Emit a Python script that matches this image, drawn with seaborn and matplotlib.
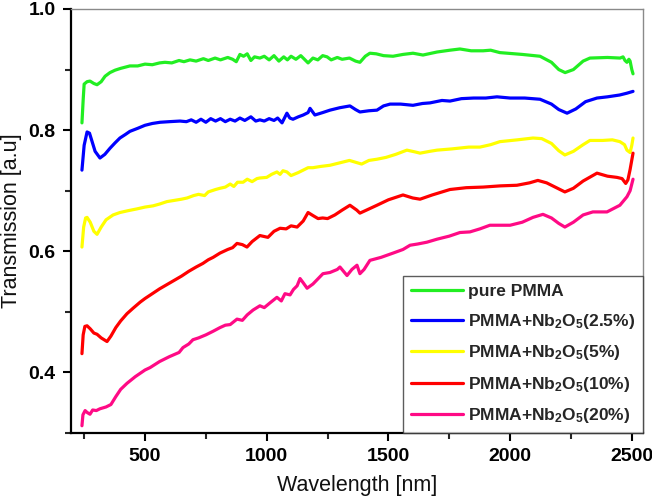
import numpy as np
import pandas as pd
import matplotlib
matplotlib.use("Agg")
import matplotlib.pyplot as plt
from matplotlib.ticker import MultipleLocator
import seaborn as sns

# ---------------- data ----------------
wl_pure = [241, 246, 250, 262, 274, 290, 303, 320, 336, 356, 377, 400, 438, 470, 500, 530, 560, 582, 610, 640,
           660, 685, 710, 740, 760, 788, 810, 840, 860, 875, 890, 905, 920, 935, 950, 972, 990, 1010, 1030, 1050,
           1070, 1085, 1100, 1120, 1140, 1160, 1170, 1190, 1210, 1230, 1248, 1265, 1290, 1310, 1340, 1365, 1383,
           1405, 1424, 1450, 1480, 1519, 1560, 1601, 1642, 1700, 1753, 1794, 1840, 1889, 1920, 1958, 2050, 2123,
           2170, 2200, 2226, 2260, 2300, 2328, 2400, 2452, 2464, 2472, 2480, 2488, 2493, 2500, 2505]
tr_pure = [0.812, 0.850, 0.876, 0.880, 0.881, 0.877, 0.875, 0.880, 0.889, 0.895, 0.899, 0.902, 0.906, 0.906,
           0.909, 0.908, 0.911, 0.912, 0.911, 0.915, 0.913, 0.916, 0.914, 0.918, 0.915, 0.919, 0.916, 0.920,
           0.917, 0.913, 0.925, 0.922, 0.926, 0.915, 0.921, 0.919, 0.922, 0.916, 0.923, 0.914, 0.921, 0.916,
           0.922, 0.917, 0.923, 0.915, 0.911, 0.919, 0.916, 0.923, 0.921, 0.916, 0.920, 0.917, 0.919, 0.914,
           0.912, 0.922, 0.927, 0.926, 0.923, 0.922, 0.925, 0.927, 0.924, 0.929, 0.932, 0.934, 0.931, 0.931,
           0.932, 0.928, 0.925, 0.922, 0.912, 0.900, 0.895, 0.900, 0.914, 0.919, 0.920, 0.919, 0.921, 0.915,
           0.912, 0.917, 0.914, 0.900, 0.893]

wl_25 = [241, 250, 262, 272, 282, 295, 315, 335, 356, 377, 397, 420, 438, 470, 500, 530, 562, 600, 644, 670,
         690, 710, 730, 750, 770, 790, 810, 830, 850, 870, 890, 910, 935, 955, 972, 990, 1010, 1030, 1045, 1063,
         1083, 1095, 1108, 1130, 1150, 1170, 1178, 1198, 1230, 1260, 1300, 1342, 1365, 1383, 1420, 1453, 1480,
         1507, 1550, 1601, 1640, 1671, 1720, 1753, 1800, 1850, 1900, 1946, 2000, 2060, 2123, 2170, 2200, 2234,
         2270, 2310, 2357, 2400, 2450, 2480, 2505]
tr_25 = [0.734, 0.775, 0.797, 0.795, 0.782, 0.765, 0.754, 0.760, 0.770, 0.779, 0.787, 0.793, 0.798, 0.803,
         0.808, 0.811, 0.813, 0.814, 0.815, 0.814, 0.817, 0.813, 0.818, 0.813, 0.819, 0.815, 0.819, 0.814,
         0.818, 0.815, 0.820, 0.816, 0.822, 0.815, 0.817, 0.815, 0.819, 0.816, 0.820, 0.812, 0.828, 0.820,
         0.818, 0.822, 0.825, 0.829, 0.836, 0.825, 0.829, 0.833, 0.837, 0.840, 0.834, 0.830, 0.832, 0.833,
         0.840, 0.843, 0.843, 0.841, 0.844, 0.845, 0.849, 0.848, 0.852, 0.853, 0.853, 0.855, 0.853, 0.853,
         0.851, 0.843, 0.834, 0.828, 0.835, 0.847, 0.853, 0.855, 0.858, 0.861, 0.864]

wl_5 = [241, 248, 256, 262, 275, 290, 303, 320, 340, 369, 397, 430, 467, 500, 533, 560, 590, 620, 650, 673,
        700, 720, 745, 760, 790, 808, 830, 850, 865, 880, 903, 920, 940, 960, 972, 1000, 1020, 1042, 1055, 1067,
        1083, 1100, 1130, 1150, 1170, 1190, 1220, 1260, 1300, 1340, 1365, 1390, 1420, 1453, 1490, 1530, 1576,
        1610, 1630, 1670, 1700, 1760, 1830, 1876, 1920, 1958, 2030, 2094, 2130, 2170, 2200, 2225, 2260, 2300,
        2328, 2380, 2420, 2451, 2470, 2480, 2493, 2500, 2505]
tr_5 = [0.607, 0.640, 0.655, 0.656, 0.648, 0.633, 0.628, 0.640, 0.652, 0.660, 0.664, 0.667, 0.670, 0.673,
        0.675, 0.678, 0.682, 0.684, 0.686, 0.688, 0.692, 0.694, 0.692, 0.698, 0.702, 0.704, 0.706, 0.711,
        0.707, 0.714, 0.714, 0.719, 0.715, 0.720, 0.721, 0.722, 0.727, 0.731, 0.727, 0.733, 0.731, 0.725,
        0.730, 0.734, 0.738, 0.738, 0.740, 0.742, 0.746, 0.750, 0.747, 0.744, 0.750, 0.752, 0.755, 0.760,
        0.767, 0.764, 0.762, 0.765, 0.767, 0.769, 0.772, 0.772, 0.776, 0.781, 0.784, 0.787, 0.786, 0.778,
        0.766, 0.759, 0.765, 0.776, 0.783, 0.783, 0.784, 0.781, 0.776, 0.767, 0.763, 0.775, 0.787]

wl_10 = [241, 246, 253, 262, 275, 290, 303, 320, 344, 360, 380, 400, 426, 451, 480, 500, 530, 560, 590, 620,
         650, 680, 710, 738, 760, 780, 808, 840, 860, 878, 900, 919, 940, 972, 1005, 1030, 1055, 1080, 1100,
         1125, 1150, 1170, 1190, 1211, 1230, 1250, 1280, 1310, 1342, 1370, 1383, 1410, 1453, 1500, 1560, 1600,
         1630, 1680, 1753, 1820, 1889, 1960, 2028, 2080, 2114, 2150, 2190, 2225, 2260, 2300, 2357, 2400, 2439,
         2460, 2475, 2484, 2493, 2505]
tr_10 = [0.431, 0.462, 0.476, 0.477, 0.472, 0.465, 0.463, 0.457, 0.451, 0.460, 0.474, 0.485, 0.497, 0.506,
         0.516, 0.522, 0.530, 0.538, 0.545, 0.552, 0.559, 0.567, 0.574, 0.580, 0.586, 0.590, 0.597, 0.603,
         0.606, 0.613, 0.611, 0.607, 0.616, 0.626, 0.623, 0.633, 0.638, 0.637, 0.642, 0.640, 0.650, 0.664,
         0.659, 0.654, 0.655, 0.654, 0.660, 0.668, 0.676, 0.668, 0.663, 0.668, 0.676, 0.685, 0.693, 0.688,
         0.686, 0.693, 0.702, 0.705, 0.706, 0.708, 0.709, 0.713, 0.717, 0.713, 0.705, 0.698, 0.704, 0.716,
         0.729, 0.724, 0.722, 0.720, 0.712, 0.718, 0.735, 0.762]

wl_20 = [241, 245, 254, 262, 274, 285, 300, 315, 340, 360, 380, 400, 426, 460, 500, 521, 560, 600, 640, 656,
         680, 697, 720, 750, 780, 808, 830, 850, 878, 900, 920, 944, 972, 990, 1014, 1042, 1060, 1075, 1096,
         1110, 1125, 1137, 1150, 1166, 1190, 1231, 1260, 1290, 1301, 1330, 1350, 1371, 1383, 1400, 1424, 1470,
         1519, 1560, 1589, 1620, 1658, 1700, 1750, 1794, 1835, 1876, 1917, 1960, 2000, 2050, 2094, 2135, 2170,
         2200, 2225, 2260, 2300, 2340, 2398, 2451, 2480, 2493, 2505]
tr_20 = [0.312, 0.330, 0.337, 0.334, 0.331, 0.338, 0.337, 0.340, 0.343, 0.347, 0.360, 0.372, 0.382, 0.393,
         0.404, 0.408, 0.418, 0.426, 0.433, 0.441, 0.447, 0.454, 0.457, 0.462, 0.468, 0.474, 0.478, 0.479,
         0.488, 0.486, 0.495, 0.503, 0.510, 0.507, 0.515, 0.524, 0.518, 0.530, 0.528, 0.537, 0.543, 0.555,
         0.548, 0.539, 0.546, 0.563, 0.565, 0.570, 0.574, 0.560, 0.570, 0.577, 0.563, 0.570, 0.585, 0.590,
         0.597, 0.603, 0.610, 0.612, 0.615, 0.620, 0.625, 0.631, 0.632, 0.637, 0.643, 0.643, 0.643, 0.648,
         0.656, 0.661, 0.655, 0.646, 0.640, 0.648, 0.660, 0.665, 0.665, 0.676, 0.690, 0.700, 0.719]

labels = ["pure PMMA",
          r"PMMA+Nb$_{2}$O$_{5}$(2.5%)",
          r"PMMA+Nb$_{2}$O$_{5}$(5%)",
          r"PMMA+Nb$_{2}$O$_{5}$(10%)",
          r"PMMA+Nb$_{2}$O$_{5}$(20%)"]
colors = ["#22ee22", "#0000ff", "#ffff00", "#ff0000", "#ff0a85"]

series = [(wl_pure, tr_pure), (wl_25, tr_25), (wl_5, tr_5), (wl_10, tr_10), (wl_20, tr_20)]
df = pd.concat([pd.DataFrame({"Wavelength": w, "Transmission": t, "Sample": lab})
                for (w, t), lab in zip(series, labels)], ignore_index=True)

# ---------------- style ----------------
sns.set_style("ticks")
plt.rcParams["font.family"] = ["Liberation Sans", "DejaVu Sans"]
plt.rcParams["mathtext.fontset"] = "custom"
plt.rcParams["mathtext.rm"] = "Liberation Sans:bold"
plt.rcParams["mathtext.it"] = "Liberation Sans:bold"
plt.rcParams["mathtext.bf"] = "Liberation Sans:bold"
plt.rcParams["mathtext.default"] = "bf"

fig = plt.figure(figsize=(6.52, 5.03), dpi=100)
ax = fig.add_axes([71 / 652, 70 / 503, (643 - 71) / 652, (494 - 70) / 503])

sns.lineplot(data=df, x="Wavelength", y="Transmission", hue="Sample", hue_order=labels,
             palette=colors, linewidth=2.3, sort=False, estimator=None, ax=ax)

ax.set_xlim(196, 2546)
ax.set_ylim(0.30, 1.0)
ax.xaxis.set_minor_locator(MultipleLocator(250))
ax.yaxis.set_minor_locator(MultipleLocator(0.1))
ax.set_yticks([0.4, 0.6, 0.8, 1.0])
ax.set_xticks([500, 1000, 1500, 2000, 2500])
ax.set_yticklabels(["0.4", "0.6", "0.8", "1.0"])

ax.tick_params(axis="both", which="major", direction="out", length=6, width=1.5,
               labelsize=14, colors="black", pad=5)
ax.tick_params(axis="both", which="minor", direction="out", length=4, width=1.5)
for lab in ax.get_xticklabels() + ax.get_yticklabels():
    lab.set_fontweight("bold")

ax.spines["left"].set_linewidth(1.6)
ax.spines["bottom"].set_linewidth(1.6)
ax.spines["left"].set_color("black")
ax.spines["bottom"].set_color("black")
for s in ("top", "right"):
    ax.spines[s].set_visible(True)
    ax.spines[s].set_color("#8a8a8a")
    ax.spines[s].set_linewidth(1.0)

ax.set_xlabel("Wavelength [nm]", fontsize=15.5, color="#111111", labelpad=7)
ax.set_ylabel("Transmission [a.u]", fontsize=15.5, color="#111111")
ax.yaxis.set_label_coords(-0.085, 0.5)

leg = ax.legend(loc="lower right", borderaxespad=0, frameon=True, fancybox=False,
                prop={"weight": "bold", "size": 12.5}, handlelength=3.0, labelspacing=0.72,
                borderpad=0.45, handletextpad=0.3)
leg.get_frame().set_edgecolor("#333333")
leg.get_frame().set_linewidth(1.0)
for h in leg.get_lines():
    h.set_linewidth(2.3)

fig.savefig("out.png", dpi=100)
